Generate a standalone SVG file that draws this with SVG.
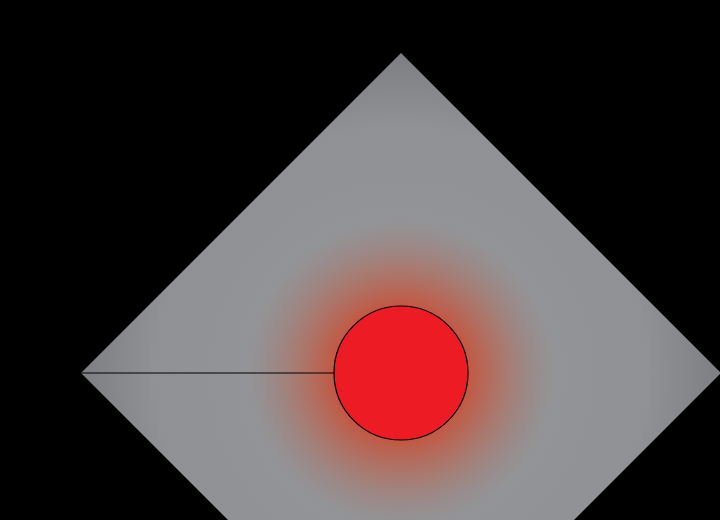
<svg xmlns="http://www.w3.org/2000/svg" width="720" height="520" viewBox="0 0 720 520">
  <defs>
    <radialGradient id="diamondFill" gradientUnits="userSpaceOnUse" cx="401" cy="373" r="330">
      <stop offset="0" stop-color="#98999c"/>
      <stop offset="0.75" stop-color="#909194"/>
      <stop offset="1" stop-color="#7b7c7f"/>
    </radialGradient>
    <radialGradient id="glow" gradientUnits="userSpaceOnUse" cx="401" cy="373" r="155">
      <stop offset="0.42" stop-color="#cc4a30" stop-opacity="0.85"/>
      <stop offset="0.7" stop-color="#c0583f" stop-opacity="0.4"/>
      <stop offset="1" stop-color="#a0706a" stop-opacity="0"/>
    </radialGradient>
    <style>
      .edge { stroke: #000; stroke-width: 1.2; fill: none; }
      .node { fill: #ed1c24; stroke: #000; stroke-width: 1.2; }
    </style>
  </defs>
  <rect width="720" height="520" fill="#000"/>
  <g id="diamond">
    <polygon points="401,53 721,373 401,693 81,373" fill="url(#diamondFill)"/>
    <circle cx="401" cy="373" r="155" fill="url(#glow)"/>
  </g>
  <g id="connectors">
    <line class="edge" x1="81" y1="373" x2="334" y2="373"/>
  </g>
  <g id="center">
    <circle class="node" cx="401" cy="373" r="67"/>
  </g>
</svg>
